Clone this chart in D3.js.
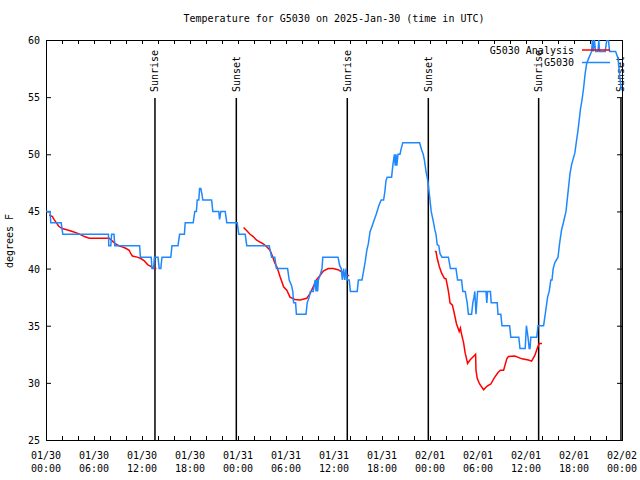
<!DOCTYPE html>
<html><head><meta charset="utf-8">
<script src="https://cdn.jsdelivr.net/npm/d3@7"></script>
<style>
body{margin:0;background:#fff}
text{font-family:"DejaVu Sans Mono","Liberation Mono",monospace;font-size:10px;fill:#000}
</style>
</head><body>
<svg id="c" width="640" height="480"></svg>
<script>
// ---- data (hours since 2025-01-30 00:00 UTC, degrees F) ----
const titleText = "Temperature for G5030 on 2025-Jan-30 (time in UTC)";
const yLabelText = "degrees F";
const seriesNames = ["G5030 Analysis", "G5030"];

const xTickHours = [0, 6, 12, 18, 24, 30, 36, 42, 48, 54, 60, 66, 72];
const xDateLabels = ["01/30","01/30","01/30","01/30","01/31","01/31","01/31","01/31","02/01","02/01","02/01","02/01","02/02"];
const xTimeLabels = ["00:00","06:00","12:00","18:00","00:00","06:00","12:00","18:00","00:00","06:00","12:00","18:00","00:00"];
const yTicks = [25, 30, 35, 40, 45, 50, 55, 60];

const sunHours = [13.62, 23.79, 37.66, 47.79, 61.58, 71.87];
const sunLabels = ["Sunrise", "Sunset", "Sunrise", "Sunset", "Sunrise", "Sunset"];

// G5030 observations
const blueHours = [0,0.5,0.6,1.9,2.1,7.8,7.85,8.1,8.2,8.5,8.6,11.7,11.8,13.15,13.25,13.45,13.55,14.0,14.15,14.35,14.5,
  15.6,15.75,16.5,16.7,17.3,17.4,18.4,18.6,18.8,18.9,19.1,19.2,19.35,19.5,19.6,20.7,20.85,21.6,21.7,21.85,22.4,22.6,
  23.9,24.1,24.9,25.1,27.9,28.2,28.6,28.8,30.2,30.4,30.7,30.85,30.95,31.2,31.3,32.5,32.65,32.9,33.05,33.4,33.55,33.65,
  33.75,33.85,33.95,34.05,34.3,34.5,34.6,36.5,36.7,36.9,37.05,37.2,37.35,37.5,37.65,37.9,38.05,38.9,39.05,39.5,39.7,
  39.9,40.1,40.3,40.5,40.8,41.0,41.3,41.6,41.9,42.2,42.35,42.5,42.65,43.2,43.35,43.55,43.65,43.75,43.85,44.0,44.25,
  44.4,44.6,46.7,46.95,47.15,47.3,47.5,47.75,47.9,48.0,48.15,48.3,48.45,48.6,48.75,48.9,49.1,49.25,49.5,50.3,50.55,
  51.25,51.45,51.95,52.1,52.4,52.65,52.8,53.2,53.35,53.5,53.6,53.75,53.95,55.0,55.1,55.2,55.55,55.65,56.4,56.5,56.85,
  57.0,57.95,58.1,59.1,59.25,59.9,60.05,60.25,60.4,60.5,60.6,61.35,61.5,62.2,62.4,62.7,62.9,63.1,63.25,63.4,63.6,64.0,
  64.2,64.45,64.7,65.0,65.3,65.5,65.7,66.1,66.3,66.5,66.8,67.0,67.2,67.4,67.6,67.9,68.2,68.3,68.4,68.55,68.7,69.0,69.1,
  69.2,69.9,70.1,70.3,70.45,71.2,71.5,71.9];
const blueTemps = [45,45,44,44,43,43,42,42,43,43,42,42,41,41,40,40,41,41,40,40,41,
  41,42,42,43,43,44,44,45,45,46,46,47,47,46.5,46,46,45,45,44.3,45,45,44,
  44,43,43,42,42,41,41,40,40,39,38.5,38,37,37,36,36,37,37.5,38,38,38.6,39,
  38,39,38,39,39.5,40,41,41,40.3,40,39,40,39,40,39,39,38,38,39,39,39.8,
  40.6,41.6,42.2,43.2,43.8,44.2,44.8,45.5,46,46,46.7,47.7,48,48,49,50,49,50,49,50,50,
  50.5,51,51,50.4,50,49.5,48.5,47.6,46.6,46,45,44.5,44,43.4,43,42.1,42,41.3,41,41,40,
  40,39,39,38,38,37,36,36,37,37.5,38,36,38,38,37,38,38,37,37,36,36,
  35,35,34,34,33,33,35,34,33,33,34,34,35,35,36,37.5,38,39,39,40,40.5,41,
  42.2,43.4,44.1,45,47,48.3,49.1,50.1,51.1,52.1,53.9,54.75,55.8,57.1,58,58.5,59,60,59,60,59,59,60,
  59,59,60,60,59,59,58.4,55.6];

// G5030 Analysis (null = gap)
const redHours = [0.4,0.8,1.0,1.3,1.6,2.0,2.6,3.3,3.9,4.5,4.8,5.4,6.4,7.9,8.3,8.7,9.1,9.5,9.9,10.4,10.6,10.8,11.4,11.8,
  12.25,12.7,13.1,13.5,13.8,19,
  24.7,25.1,25.5,25.9,26.3,26.8,27.2,27.6,28.0,28.3,28.6,28.9,29.25,29.7,30.1,30.5,31.1,31.75,32.6,33.0,33.4,33.8,
  34.25,34.7,35.3,35.9,36.5,37.0,37.6,37.9,43,
  48.6,48.75,48.9,49.15,49.45,49.8,50.0,50.2,50.35,50.5,50.8,51.0,51.3,51.65,51.8,51.9,52.2,52.4,52.7,53.0,53.7,
  53.75,53.9,54.2,54.7,55.1,55.6,56.0,56.5,56.8,57.2,57.6,57.8,58.6,59.5,60.3,60.7,61.1,61.4,61.65,62.0];
const redTemps = [44.7,44.55,44.3,44.0,43.7,43.5,43.4,43.25,43.1,42.9,42.8,42.65,42.65,42.65,42.4,42.15,42.0,41.9,41.8,41.6,41.3,41.1,41.0,40.9,
  40.7,40.35,40.2,40.0,40.0,null,
  43.6,43.3,43.0,42.8,42.5,42.3,42.15,41.9,41.6,41.1,40.5,40.1,39.3,38.4,38.1,37.5,37.3,37.25,37.4,37.8,38.4,39.0,
  39.4,39.8,40.0,40.0,39.9,39.7,39.4,39.4,null,
  41.5,41.5,40.9,40.2,39.6,39.15,39.1,38.4,37.8,37.0,36.8,36.2,35.2,34.5,34.8,34.4,33.5,32.6,31.7,32.0,32.5,
  31.1,30.4,29.9,29.4,29.7,29.9,30.4,30.9,31.1,31.1,32.1,32.3,32.35,32.1,32.0,31.9,32.4,33.0,33.45,33.45];

const redColor = "#ff0000";
const blueColor = "#1e88ff";

// ---- chart ----
const svg = d3.select("#c");
const L = 46, R = 622, T = 40, B = 440;
const x = d3.scaleLinear().domain([0, 72]).range([L, R]);
const y = d3.scaleLinear().domain([25, 60]).range([B, T]);

svg.append("rect").attr("width", 640).attr("height", 480).attr("fill", "#fff");

svg.append("defs").append("clipPath").attr("id", "clip")
  .append("rect").attr("x", L).attr("y", T).attr("width", R - L).attr("height", B - T);

// title
svg.append("text").attr("x", (L + R) / 2).attr("y", 22).attr("text-anchor", "middle").text(titleText);
// y label
svg.append("text").attr("transform", "translate(13,241) rotate(-90)").attr("text-anchor", "middle").text(yLabelText);

// axes (ticks inward)
const minorX = d3.range(0, 73, 2);
const gB = svg.append("g").attr("transform", `translate(0,${B})`)
  .call(d3.axisBottom(x).tickValues(minorX).tickSize(-4).tickFormat(""));
const gT = svg.append("g").attr("transform", `translate(0,${T})`)
  .call(d3.axisTop(x).tickValues(minorX).tickSize(-4).tickFormat(""));
const gL = svg.append("g").attr("transform", `translate(${L},0)`)
  .call(d3.axisLeft(y).tickValues(yTicks).tickSize(-5).tickPadding(6).tickFormat(d3.format("d")));
const gR = svg.append("g").attr("transform", `translate(${R},0)`)
  .call(d3.axisRight(y).tickValues(yTicks).tickSize(-5).tickFormat(""));
[gB, gT, gL, gR].forEach(g => {
  g.select(".domain").remove();
  g.selectAll("line").attr("stroke", "#000").attr("stroke-width", 1);
  g.selectAll("text").attr("font-family", null).attr("font-size", null).attr("fill", "#000");
});
gL.selectAll("text").attr("dy", "0.35em");

// x labels (two lines)
const xl = svg.append("g");
xl.selectAll("text.d").data(xTickHours).join("text").attr("class", "d")
  .attr("x", d => x(d)).attr("y", 459).attr("text-anchor", "middle").text((d, i) => xDateLabels[i]);
xl.selectAll("text.t").data(xTickHours).join("text").attr("class", "t")
  .attr("x", d => x(d)).attr("y", 472).attr("text-anchor", "middle").text((d, i) => xTimeLabels[i]);

// frame
svg.append("rect").attr("x", L + 0.5).attr("y", T + 0.5).attr("width", R - L).attr("height", B - T)
  .attr("fill", "none").attr("stroke", "#000").attr("stroke-width", 1);

// sun lines
const sg = svg.append("g");
sg.selectAll("line").data(sunHours).join("line")
  .attr("x1", d => x(d)).attr("x2", d => x(d)).attr("y1", 98).attr("y2", B)
  .attr("stroke", "#000").attr("stroke-width", 1.5);
sg.selectAll("text").data(sunHours).join("text")
  .attr("transform", d => `translate(${x(d) + 3.5},92) rotate(-90)`)
  .attr("text-anchor", "start").text((d, i) => sunLabels[i]);

// data lines
const line = d3.line().defined(d => d[1] != null).x(d => x(d[0])).y(d => y(d[1]));
const redData = redHours.map((h, i) => [h, redTemps[i]]);
const blueData = blueHours.map((h, i) => [h, blueTemps[i]]);
const dg = svg.append("g").attr("clip-path", "url(#clip)");
dg.append("path").datum(redData).attr("d", line).attr("fill", "none")
  .attr("stroke", redColor).attr("stroke-width", 1.5);
dg.append("path").datum(blueData).attr("d", line).attr("fill", "none")
  .attr("stroke", blueColor).attr("stroke-width", 1.5);

// legend
const lg = svg.append("g");
const legendColors = [redColor, blueColor];
const legendY = [50, 62.5];
lg.selectAll("text").data(seriesNames).join("text")
  .attr("x", 574).attr("y", (d, i) => legendY[i] + 3.5).attr("text-anchor", "end").text(d => d);
lg.selectAll("line").data(seriesNames).join("line")
  .attr("x1", 582).attr("x2", 610).attr("y1", (d, i) => legendY[i]).attr("y2", (d, i) => legendY[i])
  .attr("stroke", (d, i) => legendColors[i]).attr("stroke-width", 1.5);
</script>
</body></html>
